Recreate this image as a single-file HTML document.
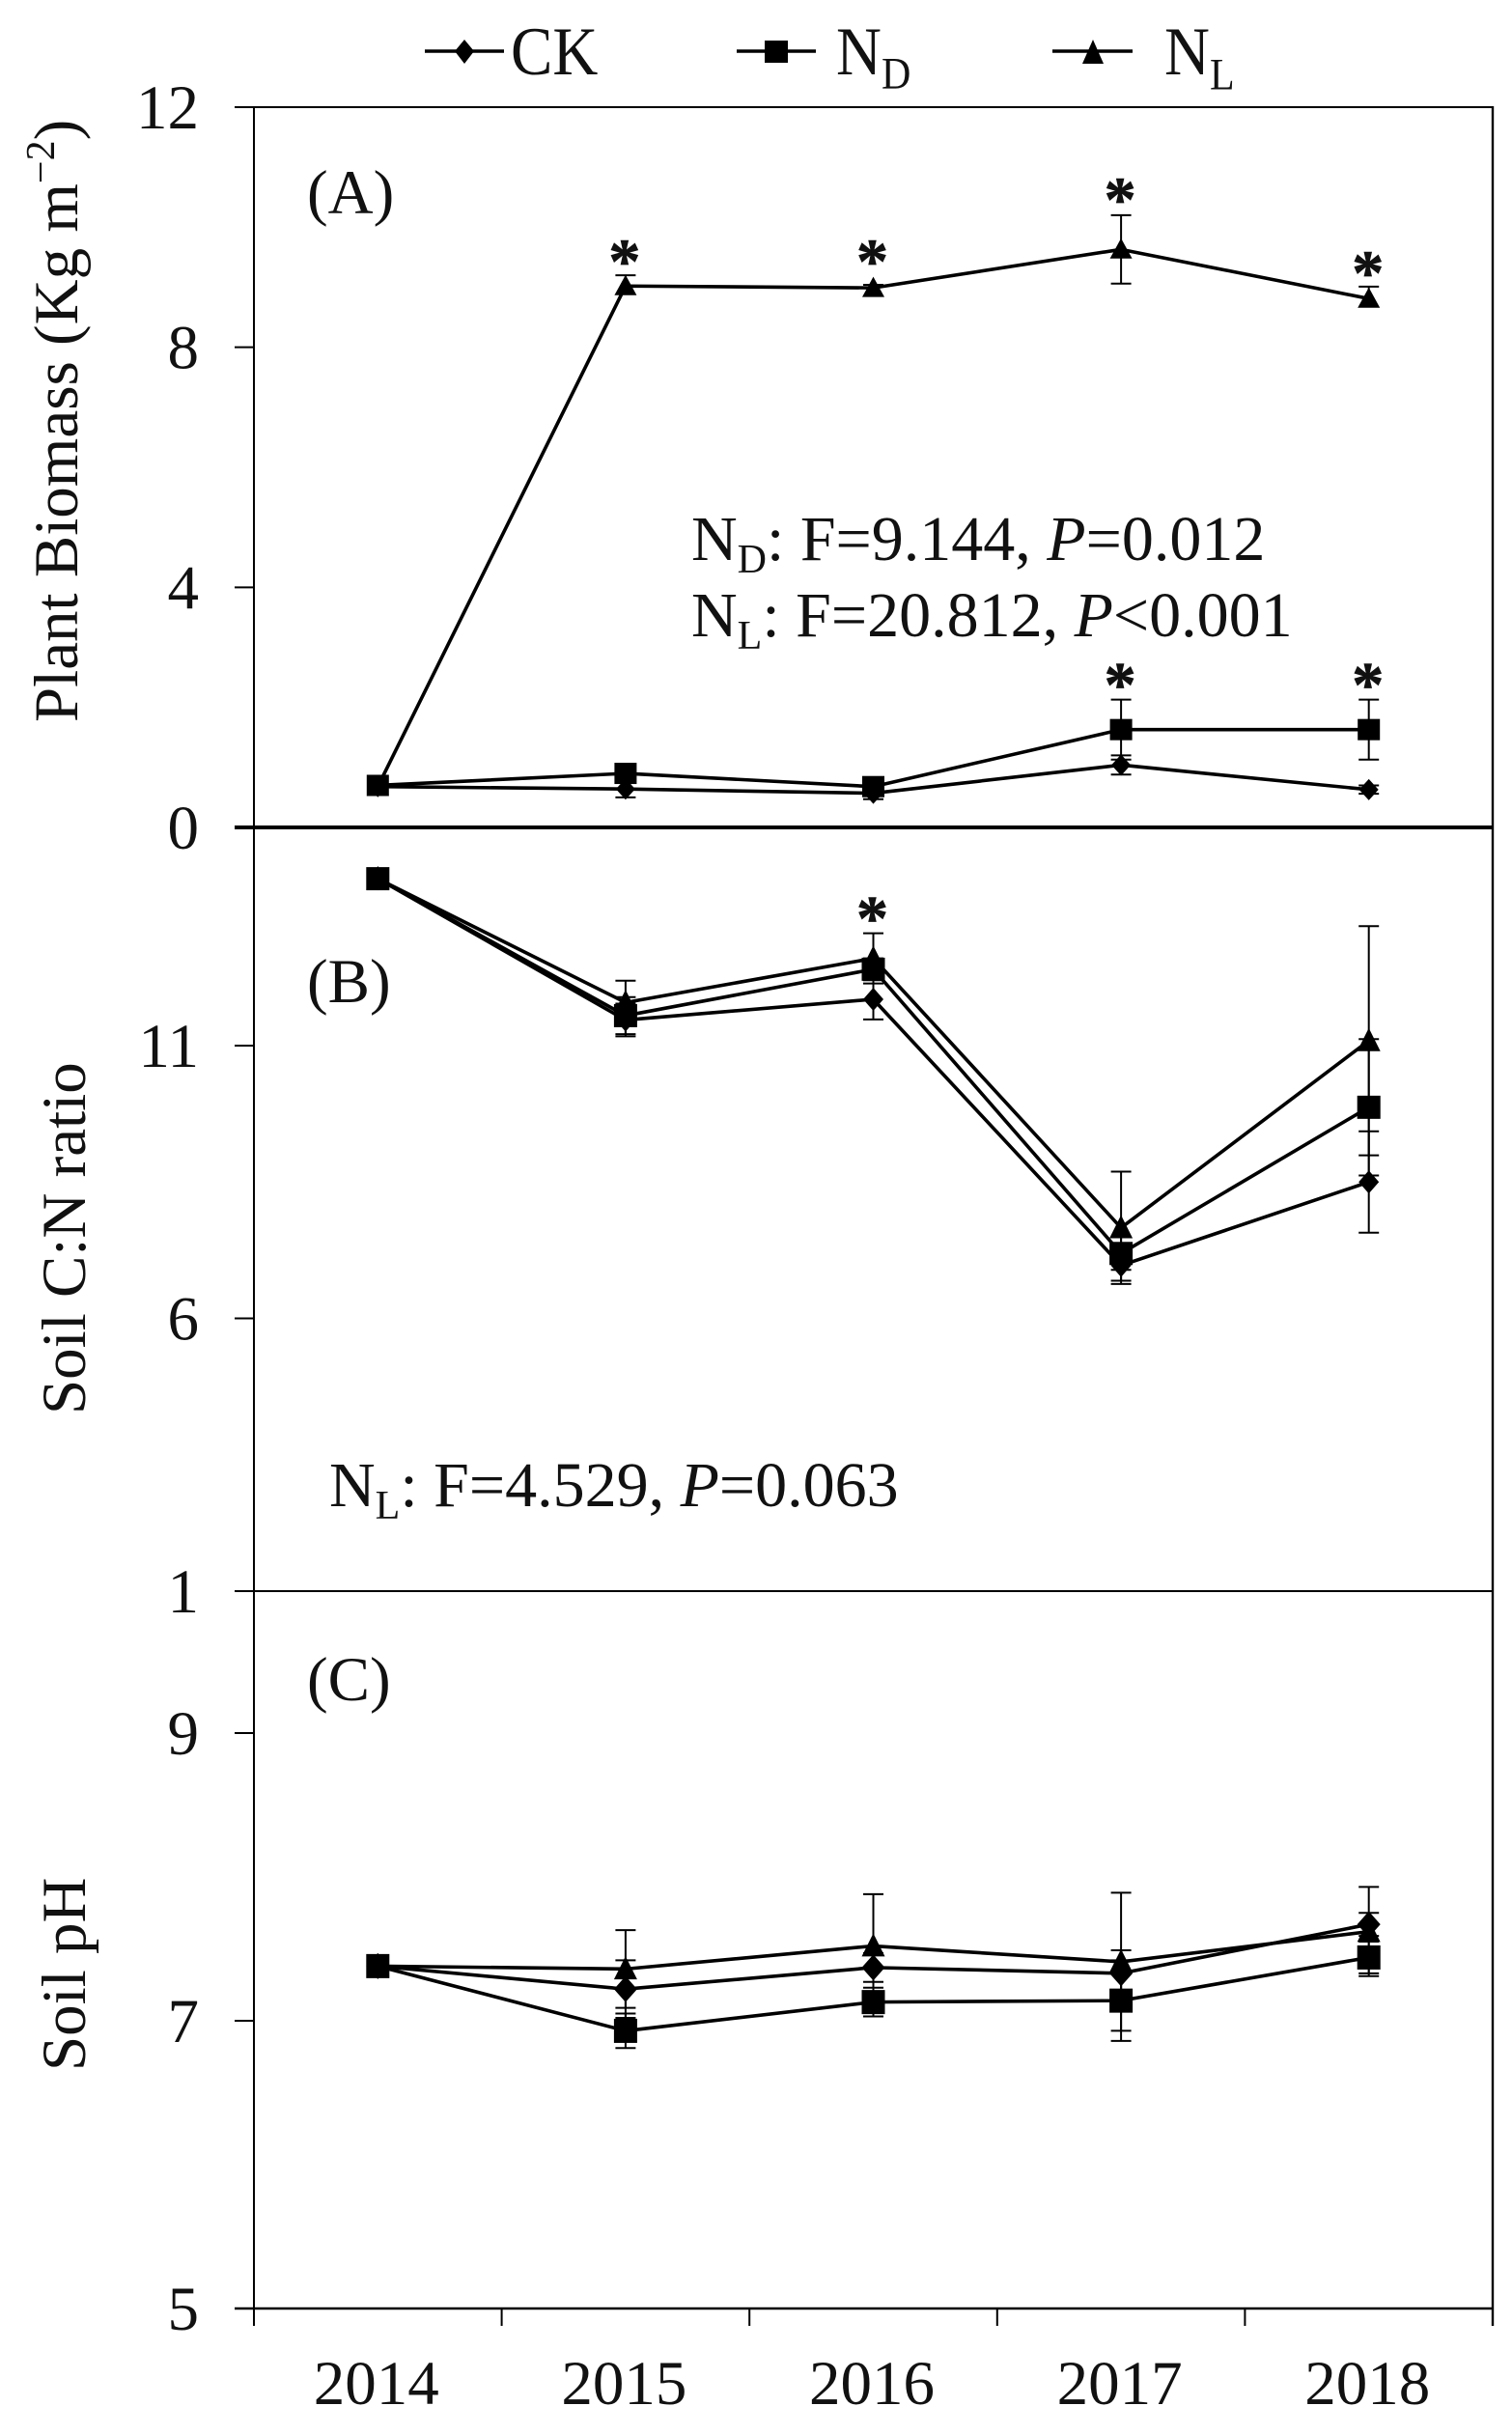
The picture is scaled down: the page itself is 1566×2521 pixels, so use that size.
<!DOCTYPE html>
<html lang="en">
<head>
<meta charset="utf-8">
<title>Plant biomass, soil C:N ratio and soil pH</title>
<style>
  html, body { margin: 0; padding: 0; background: #fff; }
  svg { display: block; }
  text { font-family: "Liberation Serif", serif; fill: #111; font-size: 65px; }
</style>
</head>
<body>
<svg id="chart" xmlns="http://www.w3.org/2000/svg" width="1566" height="2521" viewBox="0 0 1566 2521">
  <rect x="0" y="0" width="1566" height="2521" fill="#fff"/>

  <g id="axes"></g>
  <g id="marks"></g>

  <g>
    <g>
      <line x1="440" y1="53" x2="522" y2="53" stroke="#000" stroke-width="3.5"/>
      <polygon points="481,41 491,53 481,66 471,53" fill="#000"/>
      <text transform="translate(529,77) scale(1,1.1)">CK</text>
    </g>
    <g>
      <line x1="763" y1="53" x2="845" y2="53" stroke="#000" stroke-width="3.5"/>
      <rect x="792" y="42" width="24" height="23" fill="#000"/>
      <text transform="translate(866,77) scale(1,1.1)">N<tspan font-size="42" dy="13">D</tspan></text>
    </g>
    <g>
      <line x1="1090" y1="53" x2="1173" y2="53" stroke="#000" stroke-width="3.5"/>
      <polygon points="1132,41 1143,66 1121,66" fill="#000"/>
      <text transform="translate(1206,77) scale(1,1.1)">N<tspan font-size="42" dy="14">L</tspan></text>
    </g>
  </g>

  <text transform="translate(80,748) rotate(-90)">Plant Biomass (Kg m<tspan font-size="42" dy="-24">−2</tspan><tspan dy="24">)</tspan></text>
  <text transform="translate(88,1465) rotate(-90)">Soil C:N ratio</text>
  <text transform="translate(88,2145) rotate(-90)">Soil pH</text>

  <text x="318" y="221">(A)</text>
  <text x="318" y="1038">(B)</text>
  <text x="318" y="1761">(C)</text>

  <text font-size="66" style="font-size:66px" x="716" y="580">N<tspan style="font-size:42px" dy="13">D</tspan><tspan dy="-13">: F=9.144, </tspan><tspan font-style="italic">P</tspan>=0.012</text>
  <text style="font-size:66px" x="716" y="659">N<tspan style="font-size:42px" dy="13">L</tspan><tspan dy="-13">: F=20.812, </tspan><tspan font-style="italic">P</tspan>&lt;0.001</text>
  <text style="font-size:66px" x="341" y="1560">N<tspan style="font-size:42px" dy="13">L</tspan><tspan dy="-13">: F=4.529, </tspan><tspan font-style="italic">P</tspan>=0.063</text>
</svg>

<script>
const years = ['2014', '2015', '2016', '2017', '2018'];

const ticksA = [0, 4, 8, 12];
const ckA = [0.68, 0.64, 0.57, 1.04, 0.63];
const ndA = [0.70, 0.90, 0.68, 1.63, 1.63];
const nlA = [0.68, 9.02, 8.99, 9.63, 8.81];
const ckErrA = [0, 0.14, 0.10, 0.16, 0.07];
const ndErrA = [0, 0.10, 0.10, 0.50, 0.50];
const nlErrUpA = [0, 0.18, 0.05, 0.57, 0.20];
const nlErrDownA = [0, 0, 0, 0.57, 0];

const ticksB = [1, 6, 11];
const ckB = [14.06, 11.47, 11.85, 6.97, 8.50];
const ndB = [14.06, 11.55, 12.40, 7.19, 9.87];
const nlB = [14.06, 11.79, 12.60, 7.66, 11.09];
const ckErrB = [0, 0.30, 0.37, 0.28, 0.93];
const ndErrB = [0, 0.34, 0.20, 0.30, 1.25];
const nlErrB = [0, 0.40, 0.46, 1.03, 2.10];

const ticksC = [5, 7, 9];
const ckC = [7.38, 7.22, 7.37, 7.33, 7.67];
const ndC = [7.38, 6.93, 7.13, 7.14, 7.44];
const nlC = [7.38, 7.36, 7.52, 7.41, 7.62];
const ckErrC = [0, 0.20, 0.10, 0.16, 0.08];
const ndErrC = [0, 0.12, 0.10, 0.28, 0.11];
const nlErrC = [0, 0.27, 0.36, 0.48, 0.31];

// Significance asterisks: height above the series value, in axis units
const starRiseNlA = [null, 0.54, 0.57, 0.96, 0.56];
const starRiseNdA = [null, null, null, 0.88, 0.88];
const starRiseNlB = [null, null, 0.88, null, null];

const NS = 'http://www.w3.org/2000/svg';
const X0 = 263;
const X1 = 1546;
const axesGroup = document.getElementById('axes');
const marksGroup = document.getElementById('marks');

function xScale(i) { return X0 + (i + 0.5) * (X1 - X0) / years.length; }
function yScaleA(v) { return 857 - v * (857 - 111) / 12; }
function yScaleB(v) { return 1648 - (v - 1) * 56.5; }
function yScaleC(v) { return 2391 - (v - 5) * 149; }

function make(tag, attrs, parent) {
  const el = document.createElementNS(NS, tag);
  Object.keys(attrs).forEach(function (k) { el.setAttribute(k, attrs[k]); });
  parent.appendChild(el);
  return el;
}

function drawLine(x1, y1, x2, y2, width, name, parent) {
  const el = make('line', { x1: x1, y1: y1, x2: x2, y2: y2, stroke: '#000', 'stroke-width': width }, parent);
  
  
  return el;
}

function drawTicks(ticks, yScale, panel) {
  ticks.forEach(function (t) {
    const y = yScale(t);
    drawLine(243, y, 263, y, 2, 'y-tick-' + panel + '-' + t, axesGroup);
    const label = make('text', { x: 206, y: y + 22, 'text-anchor': 'end' }, axesGroup);
    
    
    label.textContent = String(t);
  });
}

function drawMarker(kind, x, y, size, parent, name) {
  let el;
  if (kind === 'square') {
    el = make('rect', { x: x - size.w / 2, y: y - size.h / 2, width: size.w, height: size.h, fill: '#000' }, parent);
  } else if (kind === 'diamond') {
    const pts = [[x, y - size.h / 2], [x + size.w / 2, y], [x, y + size.h / 2], [x - size.w / 2, y]];
    el = make('polygon', { points: pts.map(function (p) { return p.join(','); }).join(' '), fill: '#000' }, parent);
  } else {
    const pts = [[x, y - size.h * 0.55], [x + size.w / 2, y + size.h * 0.45], [x - size.w / 2, y + size.h * 0.45]];
    el = make('polygon', { points: pts.map(function (p) { return p.join(','); }).join(' '), fill: '#000' }, parent);
  }
  
  
}

function drawSeries(values, errorsUp, errorsDown, yScale, kind, size, panel, series) {
  const g = make('g', {}, marksGroup);
  
  

  values.forEach(function (v, i) {
    const x = xScale(i);
    const top = yScale(v + errorsUp[i]);
    const bottom = yScale(v - errorsDown[i]);
    if (errorsUp[i] || errorsDown[i]) {
      drawLine(x, top, x, bottom, 2, 'error-bar-' + panel + '-' + series + '-' + years[i], g);
    }
    if (errorsUp[i]) {
      drawLine(x - 10.5, top, x + 10.5, top, 2, 'error-cap-top-' + panel + '-' + series + '-' + years[i], g);
    }
    if (errorsDown[i]) {
      drawLine(x - 10.5, bottom, x + 10.5, bottom, 2, 'error-cap-bottom-' + panel + '-' + series + '-' + years[i], g);
    }
  });

  const pts = values.map(function (v, i) { return xScale(i) + ',' + yScale(v); }).join(' ');
  const line = make('polyline', { points: pts, fill: 'none', stroke: '#000', 'stroke-width': 3.6, 'stroke-linejoin': 'round' }, g);
  
  

  values.forEach(function (v, i) {
    drawMarker(kind, xScale(i), yScale(v), size, g, 'point-' + panel + '-' + series + '-' + years[i]);
  });
}

function drawStars(values, rises, yScale, panel, series) {
  rises.forEach(function (r, i) {
    if (r === null) return;
    const star = make('text', { x: xScale(i) - 1, y: yScale(values[i] + r) + 30, 'text-anchor': 'middle', 'font-weight': 'bold', style: 'font-size:66px;stroke:#111;stroke-width:0.8px' }, marksGroup);
    
    
    star.textContent = '*';
  });
}

// Frame and dividers
drawLine(X0, 110, X0, 2409, 2, 'left-axis', axesGroup);
drawLine(X1, 110, X1, 2409, 2.4, 'right-axis', axesGroup);
drawLine(243, yScaleA(12), X1, yScaleA(12), 2, 'top-border', axesGroup);
drawLine(243, yScaleA(0), X1, yScaleA(0), 4, 'panel-divider-a-b', axesGroup);
drawLine(243, yScaleB(1), X1, yScaleB(1), 2, 'panel-divider-b-c', axesGroup);
drawLine(243, yScaleC(5), X1, yScaleC(5), 2.4, 'x-axis', axesGroup);

// X ticks sit between categories, labels at category centres
for (let i = 0; i <= years.length; i++) {
  const x = X0 + i * (X1 - X0) / years.length;
  drawLine(x, 2391, x, 2409, 2, 'x-tick-' + i, axesGroup);
}
years.forEach(function (year, i) {
  const label = make('text', { x: xScale(i) - 1.5, y: 2490, 'text-anchor': 'middle' }, axesGroup);
  
  
  label.textContent = year;
});

drawTicks(ticksA, yScaleA, 'a');
drawTicks(ticksB, yScaleB, 'b');
drawTicks(ticksC, yScaleC, 'c');

const sizeDiamondA = { w: 20, h: 22 };
const sizeSquareA = { w: 23, h: 22 };
const sizeTriangleA = { w: 23, h: 21 };
const sizeDiamondB = { w: 21, h: 24 };
const sizeSquareB = { w: 24, h: 24 };
const sizeTriangleB = { w: 24, h: 24 };
const sizeDiamondC = { w: 24, h: 27 };
const sizeSquareC = { w: 24, h: 25 };
const sizeTriangleC = { w: 24, h: 24 };

drawSeries(nlA, nlErrUpA, nlErrDownA, yScaleA, 'triangle', sizeTriangleA, 'a', 'nl');
drawSeries(ckA, ckErrA, ckErrA, yScaleA, 'diamond', sizeDiamondA, 'a', 'ck');
drawSeries(ndA, ndErrA, ndErrA, yScaleA, 'square', sizeSquareA, 'a', 'nd');
drawStars(nlA, starRiseNlA, yScaleA, 'a', 'nl');
drawStars(ndA, starRiseNdA, yScaleA, 'a', 'nd');

drawSeries(nlB, nlErrB, nlErrB, yScaleB, 'triangle', sizeTriangleB, 'b', 'nl');
drawSeries(ckB, ckErrB, ckErrB, yScaleB, 'diamond', sizeDiamondB, 'b', 'ck');
drawSeries(ndB, ndErrB, ndErrB, yScaleB, 'square', sizeSquareB, 'b', 'nd');
drawStars(nlB, starRiseNlB, yScaleB, 'b', 'nl');

drawSeries(nlC, nlErrC, nlErrC, yScaleC, 'triangle', sizeTriangleC, 'c', 'nl');
drawSeries(ckC, ckErrC, ckErrC, yScaleC, 'diamond', sizeDiamondC, 'c', 'ck');
drawSeries(ndC, ndErrC, ndErrC, yScaleC, 'square', sizeSquareC, 'c', 'nd');
</script>
</body>
</html>
